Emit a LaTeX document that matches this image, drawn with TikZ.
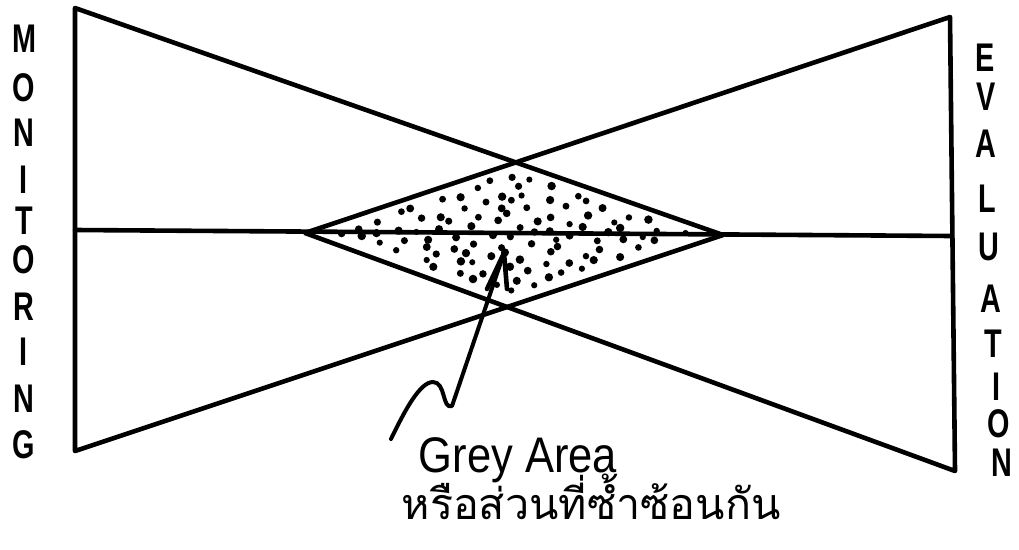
\documentclass[tikz,border=0pt]{standalone}
\usepackage{fontspec}
\setmainfont{Liberation Sans}
\newfontfamily\thaifont[Script=Thai]{Loma}
\begin{document}
\begin{tikzpicture}[x=1pt,y=-1pt,line cap=round,line join=round,
  edge/.style={line width=4.6pt,black},
  vlet/.style={inner sep=0pt,font=\fontsize{40}{40}\selectfont\bfseries},
  dotmark/.style={fill=black}]
\useasboundingbox (0,0) rectangle (1019,549);
% corners
\coordinate (LT) at (75,8);
\coordinate (LB) at (75,451);
\coordinate (RT) at (950,17);
\coordinate (RB) at (955,471);
\coordinate (DL) at (305,233);
\coordinate (DR) at (723,235);
\coordinate (ML) at (75,230);
\coordinate (MR) at (952,236);
% dots in overlap
\pgfmathsetseed{12}
\foreach \i in {1,...,10}{
  \foreach \j in {1,...,10}{
    \pgfmathsetmacro\s{0.05+0.09*(\i-0.5)+0.06*(rnd-0.5)}
    \pgfmathsetmacro\t{0.05+0.09*(\j-0.5)+0.06*(rnd-0.5)}
    \pgfmathsetmacro\px{305+210*\s+203*\t}
    \pgfmathsetmacro\py{233-71*\s+73*\t}
    \pgfmathsetmacro\r{3.0+1.3*rnd}
    \fill[dotmark] (\px,\py) circle[radius=\r pt];
  }
}
% triangles
\draw[edge] (LT) -- (LB) -- (DR) -- cycle;
\draw[edge] (RT) -- (RB) -- (DL) -- cycle;
\draw[edge] (ML) -- (MR);
% labels
\foreach \c/\y [count=\k] in {M/39,O/88,N/133,I/180,T/221,O/260,R/307,I/352,N/399,G/445}{
  \node[vlet] (m\k) at (24,\y) {\scalebox{0.72}[1]{\c}};
}
\foreach \c/\y/\x [count=\k] in {E/58/985,V/97/986,A/144/986,L/199/987,U/247/989,A/299/991,T/344/993,I/387/996,O/424/999,N/463/1002}{
  \node[vlet] (e\k) at (\x,\y) {\scalebox{0.72}[1]{\c}};
}
\node[inner sep=0pt,anchor=base,font=\fontsize{50}{50}\selectfont] (grey) at (518,472) {\scalebox{0.87}[1]{Grey Area}};
\node[inner sep=0pt,anchor=base,font=\thaifont\fontsize{43}{43}\selectfont] (thai) at (591,519) {หรือส่วนที่ซ้ำซ้อนกัน};
% arrow
\coordinate (tail) at (391,439);
\coordinate (tip) at (504,253);
\draw[line width=4pt] (tail) .. controls (405,410) and (420,382) .. (433,382)
  .. controls (446,382) and (442,410) .. (452,406) -- (tip);
\draw[line width=4.6pt] (tip) -- ++(-17,36);
\draw[line width=4.6pt] (tip) -- ++(3,36);
\end{tikzpicture}
\end{document}
